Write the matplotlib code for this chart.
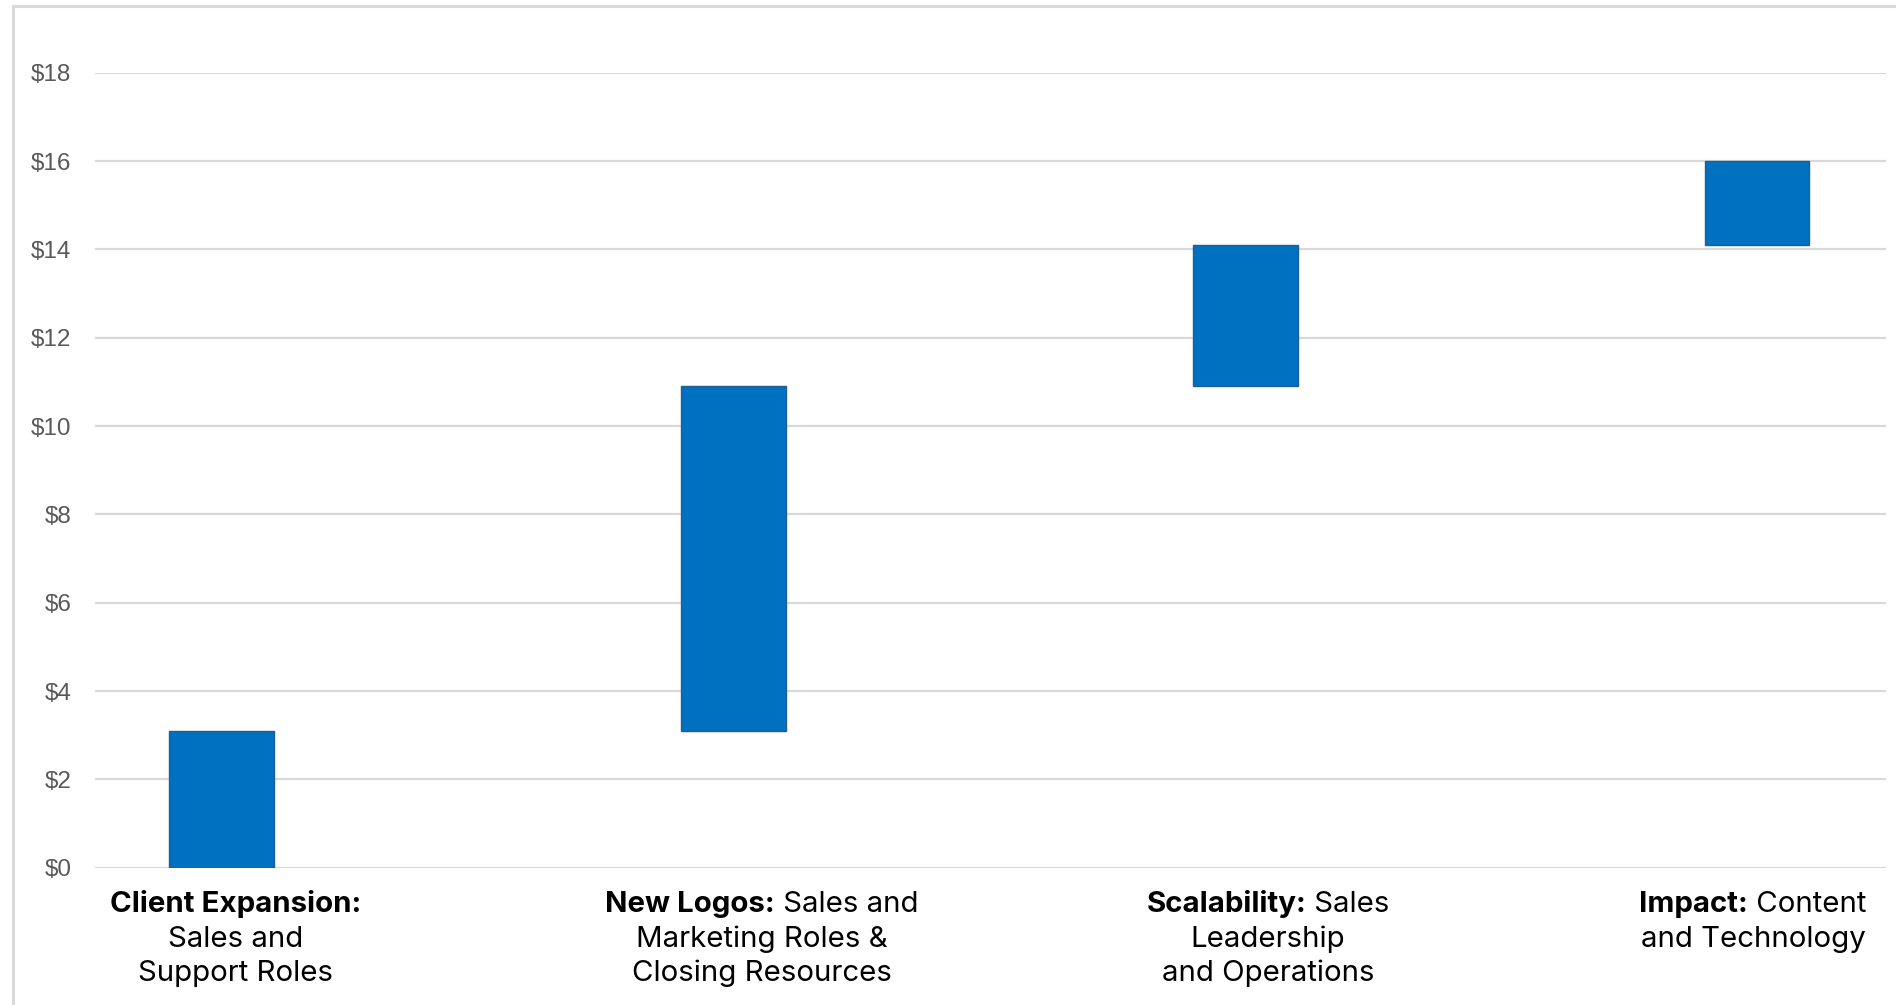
import matplotlib.pyplot as plt
from matplotlib.transforms import IdentityTransform
import numpy as np

# data
increments = [3.1, 7.8, 3.2, 1.9]
label_lines = [
    [[("Client Expansion:", True)], [("Sales and", False)], [("Support Roles", False)]],
    [[("New Logos:", True), (" Sales and", False)], [("Marketing Roles &", False)], [("Closing Resources", False)]],
    [[("Scalability:", True), (" Sales", False)], [("Leadership", False)], [("and Operations", False)]],
    [[("Impact:", True), (" Content", False)], [("and Technology", False)]],
]
yticks = [0, 2, 4, 6, 8, 10, 12, 14, 16, 18]

# layout
label_offset = [0.027, 0.055, 0.044, -0.008]
baselines = [93, 58.5, 24]
bar_color = '#0070C0'
edge_color = '#1F5F8F'

ends = np.cumsum(increments)
starts = ends - np.array(increments)
x = np.arange(len(increments))

fig = plt.figure(figsize=(18.96, 10.05), dpi=100)
ax = fig.add_axes([95/1896, (1005-867.7)/1005, (1886-95)/1896, (867.7-72.8)/1005])

# outer chart border (top and left only visible)
fig.add_artist(plt.Line2D([13/1896, 1], [1-6/1005, 1-6/1005], color='#d9d9d9', lw=2.2))
fig.add_artist(plt.Line2D([13/1896, 13/1896], [0, 1-6/1005], color='#d9d9d9', lw=2.2))

ax.bar(x, increments, bottom=starts, width=0.205, color=bar_color,
       edgecolor=edge_color, linewidth=1.0, zorder=3)

ax.set_xlim(-0.248, 3.252)
ax.set_ylim(0, 18)
ax.set_yticks(yticks)
ax.set_yticklabels(['$%d' % v for v in yticks])
ax.set_xticks([])
ax.yaxis.grid(True, color='#d9d9d9', lw=1.6, zorder=0)
ax.set_axisbelow(True)
for s in ax.spines.values():
    s.set_visible(False)
ax.tick_params(axis='y', length=0, pad=17, labelsize=17.5, labelcolor='#595959')
for t in ax.get_yticklabels():
    t.set_fontfamily(['Liberation Sans', 'DejaVu Sans'])

# category labels with mixed bold / regular runs
fig.canvas.draw()
r = fig.canvas.get_renderer()
for i, lines in enumerate(label_lines):
    cx = ax.transData.transform((x[i] + label_offset[i], 0))[0]
    for j, line in enumerate(lines):
        texts = []
        for s, bold in line:
            t = fig.text(0, baselines[j], s, transform=IdentityTransform(),
                         fontsize=21.2, family=['Inter', 'DejaVu Sans'],
                         fontweight='bold' if bold else 'normal',
                         ha='left', va='baseline', color='black')
            texts.append(t)
        widths = [t.get_window_extent(r).width for t in texts]
        xpos = cx - sum(widths) / 2
        for t, w in zip(texts, widths):
            t.set_x(xpos)
            xpos += w

fig.savefig('out.png', dpi=100)
